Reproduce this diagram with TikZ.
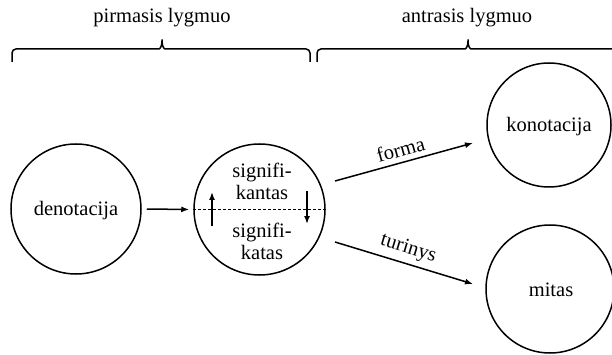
\documentclass[tikz,border=0pt]{standalone}
\usepackage{fontspec}
\setmainfont{Liberation Serif}
\usetikzlibrary{arrows.meta}
\begin{document}
\begin{tikzpicture}[x=1pt,y=-1pt,
  circ/.style={draw, line width=1.5pt, circle, inner sep=0pt, minimum size=#1},
  lbl/.style={font=\fontsize{20.5}{22}\selectfont, align=center, inner sep=1pt},
  arr/.style={line width=1.5pt, -{Latex[length=8pt,width=6pt]}},
  bracestyle/.style={line width=1.5pt, rounded corners=4pt}
]
\useasboundingbox (0,0) rectangle (612,355);
% headings
\node[lbl] (h1) at (162,18) {pirmasis lygmuo};
\node[lbl] (h2) at (467,18) {antrasis lygmuo};
% braces
\draw[bracestyle] (12,62) |- (155,49) .. controls (160,49) and (162,46) .. (162,37)
  .. controls (162,46) and (164,49) .. (169,49) -| (310,62);
\draw[bracestyle] (317,62) |- (461,49) .. controls (466,49) and (468,46) .. (468,37)
  .. controls (468,46) and (470,49) .. (475,49) -- (615,49);
% circles
\node[circ=130pt] (den) at (76,209) {};
\node[lbl] (dent) at (76,211) {denotacija};
\node[circ=131pt] (sig) at (259.5,209.5) {};
\node[circ=124pt] (kon) at (549,125) {};
\node[lbl] (kont) at (549,127) {konotacija};
\node[circ=128pt] (mit) at (550,289) {};
\node[lbl] (mitt) at (551,290) {mitas};
% inside signifier circle
\node[lbl] (sk) at (262,181) {signifi-\\kantas};
\node[lbl] (sa) at (262,241) {signifi-\\katas};
\draw[line width=1.2pt, dash pattern=on 3pt off 2pt] (sig.west) -- (sig.east);
\coordinate (u1) at (212,226);
\coordinate (u2) at (212,192);
\coordinate (d1) at (307,191);
\coordinate (d2) at (307,224);
\draw[arr] (u1) -- (u2);
\draw[arr] (d1) -- (d2);
% connectors
\draw[arr, shorten <=5pt, shorten >=4pt] (den.east) -- (sig.west);
\coordinate (f1) at (335,181);
\coordinate (f2) at (473,143);
\coordinate (t1) at (335,242);
\coordinate (t2) at (473,284);
\draw[arr] (f1) -- node[lbl, midway, sloped, above=4pt] {forma} (f2);
\draw[arr] (t1) -- node[lbl, midway, sloped, above=4pt] {turinys} (t2);
\end{tikzpicture}
\end{document}
